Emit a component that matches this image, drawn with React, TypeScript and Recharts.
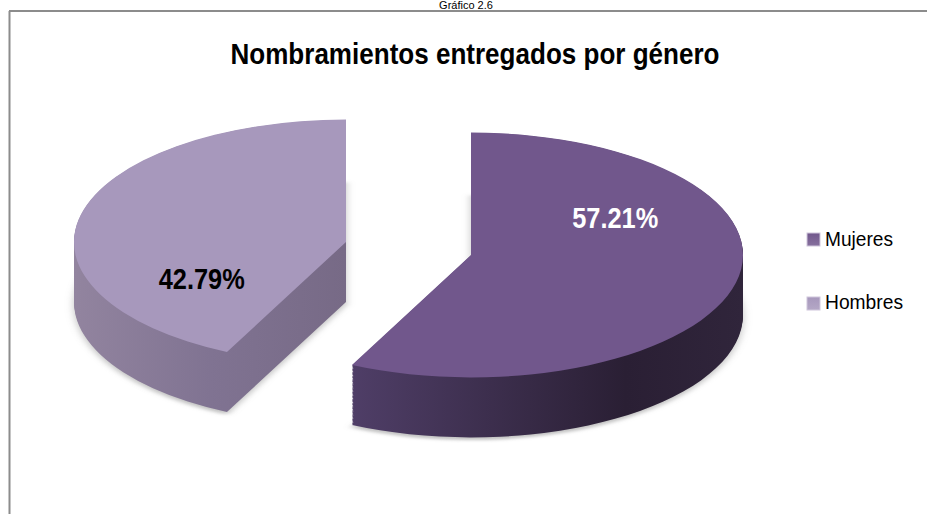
import React from "react";
import { PieChart, Pie, Cell, Legend } from "recharts";

// data
const categories = ["Mujeres", "Hombres"];
const shares = [57.21, 42.79];
const shareLabels = ["57.21%", "42.79%"];
const chartTitle = "Nombramientos entregados por género";
const caption = "Gráfico 2.6";

const data = categories.map((name, i) => ({ name, value: shares[i] }));

// look
const topColors = ["#71578c", "#a798bc"];
const labelColors = ["#ffffff", "#000000"];
const W = 927;
const H = 514;
const K = 0.45; // vertical squash for the 3d tilt
const HU = Math.ceil(H / K);
const R = 272;
const DEPTH = 60 / K;
const STEP = 3;
const slicePos = [
  { cx: 471, cy: 255 },
  { cx: 346, cy: 242 },
];
const FONT = "'Liberation Sans Narrow', 'Arial Narrow', 'Liberation Sans', Arial, sans-serif";

const offsets: number[] = [];
for (let d = DEPTH; d > 0; d -= STEP) offsets.push(d);

function renderSlice(idx: number, cx: number, cy: number, fill: string, key: string, extra: any = {}) {
  return (
    <Pie
      key={key}
      data={data}
      dataKey="value"
      nameKey="name"
      cx={cx}
      cy={cy}
      outerRadius={R}
      startAngle={90}
      endAngle={-270}
      stroke="none"
      isAnimationActive={false}
      legendType="none"
    >
      {data.map((_, j) => (
        <Cell key={j} fill={j === idx ? fill : "none"} stroke="none" {...(j === idx ? extra : {})} />
      ))}
    </Pie>
  );
}

const renderLabel = (idx: number) => (props: any) => {
  if (props.index !== idx) return null;
  const a = (props.midAngle * Math.PI) / 180;
  const x = props.cx + 148 * Math.cos(a);
  const y = props.cy + 166 * Math.sin(a) + 10;
  return (
    <text
      x={x}
      y={y}
      textAnchor="middle"
      fill={labelColors[idx]}
      fontFamily={FONT}
      fontWeight="bold"
      fontSize={29}
      textLength={86}
      lengthAdjust="spacingAndGlyphs"
    >
      {shareLabels[idx]}
    </text>
  );
};

function LegendBox() {
  const rows = [
    { y: 8, base: 21, len: 68 },
    { y: 72, base: 84, len: 78 },
  ];
  return (
    <svg width={120} height={100}>
      <defs>
        {topColors.map((c, i) => (
          <linearGradient key={i} id={`lg${i}`} x1="0" y1="0" x2="0" y2="1">
            <stop offset="0" stopColor={c} />
            <stop offset="1" stopColor={c} stopOpacity={0.85} />
          </linearGradient>
        ))}
      </defs>
      {categories.map((name, i) => (
        <g key={name}>
          <rect x={7} y={rows[i].y} width={13} height={13} fill={`url(#lg${i})`} stroke="#cfc6db" strokeWidth={1} />
          <text
            x={25}
            y={rows[i].base}
            fontFamily="'Liberation Sans', Arial, sans-serif"
            fontSize={20}
            fill="#000"
            textLength={rows[i].len}
            lengthAdjust="spacingAndGlyphs"
          >
            {name}
          </text>
        </g>
      ))}
    </svg>
  );
}

export default function App() {
  return (
    <div style={{ position: "fixed", left: 0, top: 0, width: W, height: H, background: "#fff", overflow: "hidden" }}>
      <div style={{ position: "absolute", left: 0, top: 0, transform: `scaleY(${K})`, transformOrigin: "0 0" }}>
        <PieChart width={W} height={HU} margin={{ top: 0, right: 0, bottom: 0, left: 0 }}>
          <defs>
            <linearGradient id="side0" x1="0" y1="0" x2="1" y2="0">
              <stop offset="0" stopColor="#4f3e67" />
              <stop offset="0.7" stopColor="#2a1f34" />
              <stop offset="1" stopColor="#30253b" />
            </linearGradient>
            <linearGradient id="side1" x1="0" y1="0" x2="1" y2="0">
              <stop offset="0" stopColor="#92849f" />
              <stop offset="0.5" stopColor="#807392" />
              <stop offset="1" stopColor="#776a86" />
            </linearGradient>
            <filter id="shade" x="-10%" y="-10%" width="120%" height="120%">
              <feGaussianBlur stdDeviation="4" />
            </filter>
          </defs>
          {slicePos.map((s, i) =>
            renderSlice(i, s.cx, s.cy / K + DEPTH + 6, "#9a9a9a", `sh${i}`, { filter: "url(#shade)", fillOpacity: 0.6 })
          )}
          {offsets.flatMap((d) =>
            slicePos.map((s, i) => renderSlice(i, s.cx, s.cy / K + d, `url(#side${i})`, `l${i}-${d}`))
          )}
          {slicePos.map((s, i) => renderSlice(i, s.cx, s.cy / K, topColors[i], `top${i}`))}
        </PieChart>
      </div>
      <div style={{ position: "absolute", left: 0, top: 0 }}>
        <PieChart width={W} height={H} margin={{ top: 0, right: 0, bottom: 0, left: 0 }}>
          {slicePos.map((s, i) => (
            <Pie
              key={`lab${i}`}
              data={data}
              dataKey="value"
              nameKey="name"
              cx={s.cx}
              cy={s.cy}
              outerRadius={R}
              startAngle={90}
              endAngle={-270}
              fill="none"
              stroke="none"
              isAnimationActive={false}
              labelLine={false}
              label={renderLabel(i)}
              legendType="none"
            />
          ))}
          <Legend
            content={() => <LegendBox />}
            wrapperStyle={{ position: "absolute", left: 800, top: 225, width: 120, height: 100 }}
          />
        </PieChart>
      </div>
      <svg width={W} height={H} style={{ position: "absolute", left: 0, top: 0, pointerEvents: "none" }}>
        <text x={466} y={9} textAnchor="middle" fontFamily="'Liberation Sans', Arial, sans-serif" fontSize={11} fill="#000">
          {caption}
        </text>
        <line x1={9.5} y1={11} x2={9.5} y2={H} stroke="#8c8c8c" strokeWidth={2} />
        <line x1={9} y1={11} x2={W} y2={11} stroke="#8c8c8c" strokeWidth={2} />
        <text
          x={475}
          y={64}
          textAnchor="middle"
          fontFamily={FONT}
          fontWeight="bold"
          fontSize={29}
          fill="#000"
          textLength={489}
          lengthAdjust="spacingAndGlyphs"
        >
          {chartTitle}
        </text>
      </svg>
    </div>
  );
}
